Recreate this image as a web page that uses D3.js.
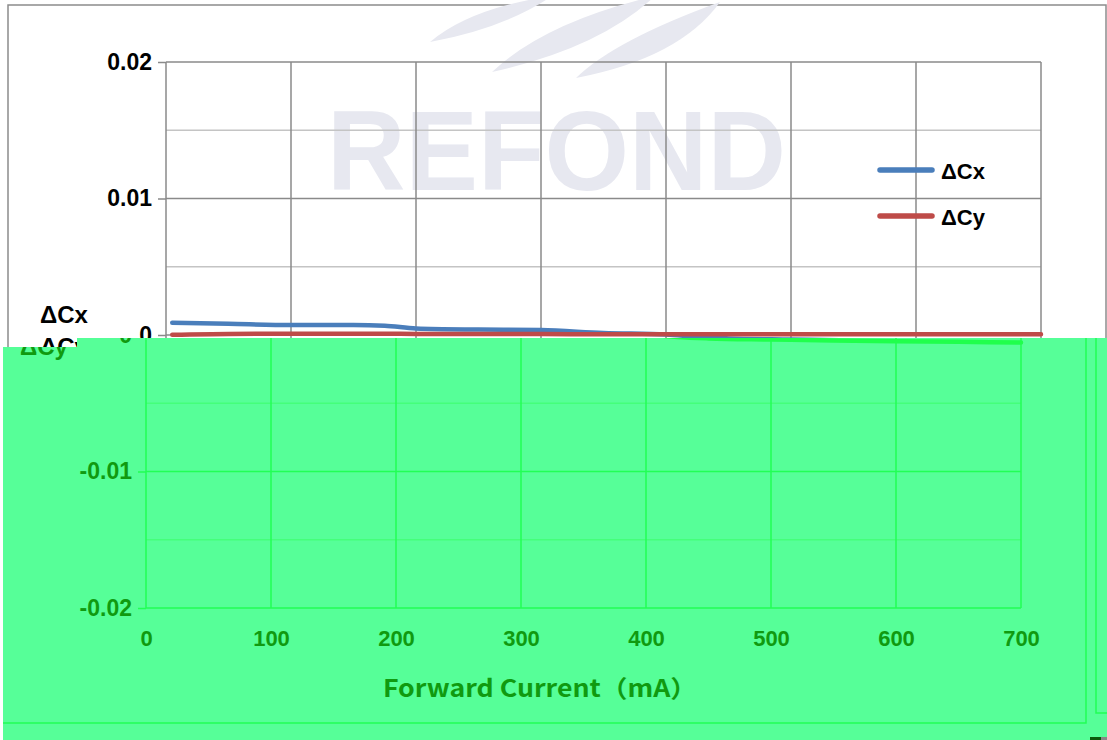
<!doctype html>
<html lang="en">
<head>
<meta charset="utf-8">
<title>ΔCx ΔCy vs Forward Current</title>
<style>
  body { margin: 0; background: #fff; }
  svg { display: block; }
  text { font-family: "Liberation Sans", Arial, sans-serif; font-weight: bold; }
  .xtitle { font-family: "Noto Sans CJK SC", "Noto Sans", sans-serif; }
</style>
</head>
<body>
<svg id="chart" width="1107" height="740"></svg>
<script src="https://cdnjs.cloudflare.com/ajax/libs/d3/7.8.5/d3.min.js"></script>
<script>
// data
var currents = [5, 50, 100, 150, 175, 200, 250, 300, 350, 400, 425, 450, 500, 550, 600, 650, 700];
var dCx = [0.00090, 0.00082, 0.00073, 0.00073, 0.00068, 0.00048, 0.00040, 0.00036, 0.00015, 0.00004,
           -0.00015, -0.00025, -0.00033, -0.00040, -0.00045, -0.00050, -0.00055];
var dCy = [0.00002, 0.00008, 0.00009, 0.00009, 0.00009, 0.00008, 0.00008, 0.00007, 0.00006, 0.00006,
           0.00005, 0.00005, 0.00005, 0.00005, 0.00005, 0.00005, 0.00005];
var seriesNames = ["ΔCx", "ΔCy"];
var xTicks = [0, 100, 200, 300, 400, 500, 600, 700];
var yTicks = [-0.02, -0.01, 0, 0.01, 0.02];
var yMinor = [-0.015, -0.005, 0.005, 0.015];
var yTitle = ["ΔCx", "ΔCy"];
var xTitle = "Forward Current（mA）";
var watermark = "REFOND";

var svg = d3.select("#chart");
var x = d3.scaleLinear().domain([0, 700]).range([166, 1041]);
var y = d3.scaleLinear().domain([-0.02, 0.02]).range([608, 62]);

// the plain copy only shows its upper half, the green copy covers the rest
var plain = {
  frame: "#8c8c8c", grid: "#8a8a8a", minor: "#c4c4c4", text: "#000",
  series: ["#4A7EBB", "#BE4B48"], mark: true, lower: false
};
var green = {
  bg: "#56FF98", frame: "#22FF55", grid: "#22FF55", minor: "#44FF7A", text: "#109A10",
  series: ["#20FF4C", "#2AFF44"], mark: false, lower: true
};

function drawChart(g, th) {
  // outer frame
  g.append("rect")
    .attr("x", 8).attr("y", 5).attr("width", 1098).attr("height", 718)
    .attr("fill", "none").attr("stroke", th.frame).attr("stroke-width", 1.5);

  if (th.mark) {
    var wm = g.append("g").attr("fill", "#E7E8F0");
    // swooshes above the word
    [[430, 42, 552, -4, 470, 8, 505, 28],
     [492, 72, 655, -4, 545, 22, 600, 48],
     [576, 78, 720, 2, 615, 40, 680, 58]].forEach(function(s) {
      wm.append("path")
        .attr("d", "M" + s[0] + "," + s[1] + "Q" + s[4] + "," + s[5] + " " + s[2] + "," + s[3] +
                   "Q" + s[6] + "," + s[7] + " " + s[0] + "," + s[1] + "Z");
    });
    wm.append("text")
      .attr("x", 327).attr("y", 190)
      .attr("font-size", 114)
      .attr("textLength", 459).attr("lengthAdjust", "spacingAndGlyphs")
      .text(watermark);
  }

  // minor horizontal grid
  g.append("g").selectAll("line").data(yMinor).join("line")
    .attr("x1", x(0)).attr("x2", x(700))
    .attr("y1", function(d) { return y(d); }).attr("y2", function(d) { return y(d); })
    .attr("stroke", th.minor).attr("stroke-width", 1.5);

  // major grid
  g.append("g").selectAll("line").data(xTicks).join("line")
    .attr("x1", function(d) { return x(d); }).attr("x2", function(d) { return x(d); })
    .attr("y1", y(0.02)).attr("y2", y(-0.02))
    .attr("stroke", th.grid).attr("stroke-width", 1.5);
  g.append("g").selectAll("line").data(yTicks).join("line")
    .attr("x1", x(0)).attr("x2", x(700))
    .attr("y1", function(d) { return y(d); }).attr("y2", function(d) { return y(d); })
    .attr("stroke", th.grid).attr("stroke-width", 1.5);

  // axes
  var ya = g.append("g").attr("transform", "translate(" + x(0) + ",0)")
    .call(d3.axisLeft(y).tickValues(yTicks).tickSize(8).tickPadding(6)
      .tickFormat(function(d) {
        var show = th.lower ? d <= 0 : d >= 0;
        return show ? String(d) : "";
      }));
  ya.select(".domain").remove();
  ya.selectAll("line").attr("stroke", th.grid).attr("stroke-width", 1.5);
  ya.selectAll("text").attr("fill", th.text).attr("font-size", 23)
    .style("font-family", "'Liberation Sans', Arial, sans-serif");

  if (th.lower) {
    var xa = g.append("g").attr("transform", "translate(0," + y(-0.02) + ")")
      .call(d3.axisBottom(x).tickValues(xTicks).tickSize(0).tickPadding(22));
    xa.select(".domain").remove();
    xa.selectAll("text").attr("fill", th.text).attr("font-size", 22)
      .style("font-family", "'Liberation Sans', Arial, sans-serif");

    g.append("text").attr("class", "xtitle")
      .attr("x", 403).attr("y", 697)
      .attr("font-size", 24).attr("fill", th.text)
      .attr("textLength", 314).attr("lengthAdjust", "spacingAndGlyphs")
      .text(xTitle);
  }

  // series
  var line = d3.line()
    .x(function(d) { return x(d[0]); })
    .y(function(d) { return y(d[1]); })
    .curve(d3.curveMonotoneX);
  [dCx, dCy].forEach(function(vals, i) {
    g.append("path")
      .datum(currents.map(function(c, k) { return [c, vals[k]]; }))
      .attr("d", line)
      .attr("fill", "none")
      .attr("stroke", th.series[i])
      .attr("stroke-width", 4.5)
      .attr("stroke-linecap", "round");
  });

  // legend
  if (!th.lower) {
    var lg = g.append("g").selectAll("g").data(seriesNames).join("g")
      .attr("transform", function(d, i) { return "translate(880," + (170 + i * 46) + ")"; });
    lg.append("line").attr("x1", 0).attr("x2", 52)
      .attr("stroke", function(d, i) { return th.series[i]; })
      .attr("stroke-width", 5.5).attr("stroke-linecap", "round");
    lg.append("text").attr("x", 61).attr("y", 9)
      .attr("font-size", 22).attr("fill", th.text).text(function(d) { return d; });
  }

  // y axis title, two lines; the green copy only shows the lower one
  g.append("g").selectAll("text")
    .data(yTitle.map(function(t, i) { return { t: t, i: i }; })
      .filter(function(d) { return th.lower ? d.i > 0 : true; }))
    .join("text")
    .attr("x", 40).attr("y", function(d) { return 323 + d.i * 32; })
    .attr("font-size", 24).attr("fill", th.text).text(function(d) { return d.t; });
}

drawChart(svg.append("g"), plain);

// green shifted copy covering the lower part
svg.append("clipPath").attr("id", "cut")
  .append("path").attr("d", "M3,347H77V338H1107V740H3Z");
var ov = svg.append("g").attr("clip-path", "url(#cut)");
ov.append("rect").attr("width", 1107).attr("height", 740).attr("fill", green.bg);
drawChart(ov.append("g").attr("transform", "translate(-20,0)"), green);
ov.append("path").attr("d", "M1096,338V713H1107")
  .attr("fill", "none").attr("stroke", green.grid).attr("stroke-width", 1.5);
ov.append("rect").attr("x", 1090).attr("y", 737).attr("width", 11).attr("height", 3).attr("fill", "#0B5A0B");
ov.append("rect").attr("x", 1101).attr("y", 737).attr("width", 6).attr("height", 3).attr("fill", "#888");
</script>
</body>
</html>
